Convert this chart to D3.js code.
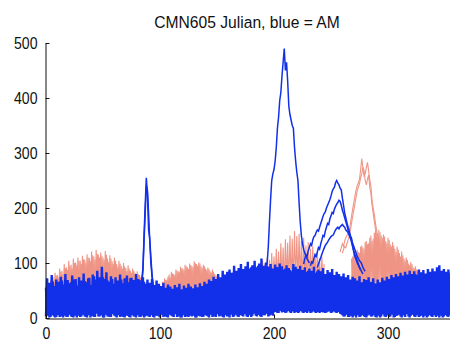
<!DOCTYPE html>
<html>
<head>
<meta charset="utf-8">
<script src="https://cdn.jsdelivr.net/npm/d3@7"></script>
<style>
  html, body { margin: 0; padding: 0; background: #fff; }
  svg { display: block; }
</style>
</head>
<body>
<svg id="chart" width="450" height="341"></svg>
<script>
// ---- Data: daily readings by Julian day ----
const titleText = "CMN605 Julian, blue = AM";
const xTicks = [0, 100, 200, 300];
const yTicks = [0, 100, 200, 300, 400, 500];

// AM (blue) full-year traces, day 0 .. 357
const amBase1 = [
  3,72, 8,64, 2,78, 5,58, 1,70,
  6,66, 2,75, 9,61, 4,80, 2,69,
  7,63, 3,77, 1,70, 12,59, 4,74,
  2,68, 6,81, 3,65, 1,72, 8,60,
  4,79, 2,70, 10,86, 3,74, 5,93,
  1,71, 7,83, 3,66, 2,76, 9,62,
  4,74, 1,68, 6,79, 3,63, 2,72,
  8,77, 4,65, 1,73, 5,69, 3,80,
  6,71, 2,66, 4,74, 1,62, 7,70,
  3,64, 5,71, 2,60, 8,68, 4,62,
  1,58, 6,64, 3,55, 2,61, 9,57,
  4,53, 2,60, 7,56, 3,62, 1,52,
  5,59, 2,55, 8,62, 4,57, 3,54,
  6,61, 1,56, 4,63, 10,58, 2,66,
  5,62, 3,70, 7,67, 2,75, 4,71,
  8,80, 3,74, 5,86, 1,79, 6,84,
  4,88, 9,82, 2,95, 6,86, 3,91,
  7,98, 4,89, 11,94, 3,102, 5,90,
  2,96, 8,104, 4,92, 6,99, 3,108,
  7,95, 5,101, 9,93, 4,98, 6,90,
  10,97, 12,92, 9,99, 14,94, 11,88,
  9,96, 13,91, 10,85, 15,98, 9,93,
  12,89, 10,95, 16,87, 9,92, 11,84,
  14,90, 9,86, 12,93, 10,82, 13,88,
  9,85, 11,91, 15,80, 10,87, 12,83,
  9,89, 13,78, 10,84, 11,80, 8,76,
  5,81, 3,74, 7,78, 2,70, 4,75,
  6,72, 1,68, 5,76, 3,65, 8,71,
  2,69, 4,74, 9,66, 3,72, 5,63,
  1,70, 6,65, 3,73, 7,68, 2,75,
  5,71, 3,78, 8,74, 2,80, 4,76,
  6,82, 1,77, 5,84, 9,79, 3,86,
  4,80, 7,85, 2,78, 5,88, 3,83,
  8,87, 4,81, 1,89, 6,84, 3,90,
  5,85, 2,92, 7,96, 4,86, 1,89,
  6,84, 3,88, 5,82, 2,79
];
const amBase2 = [
  55,4, 62,1, 48,7, 66,3, 52,2,
  60,5, 45,3, 68,1, 57,8, 63,2,
  50,6, 65,2, 58,4, 71,1, 54,9,
  62,3, 49,7, 67,2, 56,5, 73,1,
  58,4, 76,2, 61,8, 69,3, 64,5,
  74,1, 55,6, 68,3, 60,2, 71,7,
  57,3, 66,5, 52,2, 70,8, 61,1,
  64,4, 58,2, 72,6, 55,3, 67,1,
  60,5, 69,2, 54,7, 66,3, 58,4,
  52,2, 58,6, 47,1, 55,4, 50,3,
  45,7, 51,2, 42,5, 48,1, 44,6,
  40,3, 47,8, 43,2, 49,4, 41,1,
  46,6, 42,3, 50,2, 44,7, 48,4,
  43,1, 51,5, 47,3, 55,2, 50,8,
  57,4, 53,1, 62,6, 58,3, 66,2,
  63,7, 70,4, 67,2, 75,5, 71,3,
  78,1, 74,6, 82,3, 77,8, 85,2,
  80,5, 88,3, 83,7, 90,2, 86,6,
  92,4, 84,9, 89,3, 95,6, 87,2,
  91,5, 86,8, 94,3, 83,7, 89,4,
  85,11, 92,9, 80,13, 88,10, 84,12,
  90,10, 82,14, 87,9, 79,12, 86,11,
  81,9, 88,13, 78,10, 84,15, 80,9,
  86,12, 77,10, 83,14, 79,9, 85,11,
  76,13, 82,10, 74,9, 80,12, 72,14,
  78,10, 70,12, 75,9, 68,11, 73,7,
  66,3, 71,6, 63,2, 68,5, 60,1,
  65,4, 58,7, 62,2, 56,5, 64,3,
  59,1, 66,6, 57,3, 63,8, 55,2,
  61,4, 56,1, 64,7, 58,3, 66,5,
  62,2, 68,6, 65,1, 71,4, 67,8,
  73,3, 69,5, 76,2, 70,7, 74,1,
  78,6, 72,3, 80,8, 75,2, 77,4,
  71,1, 79,6, 74,3, 82,5, 76,2,
  80,7, 73,4, 84,1, 77,6, 81,3,
  75,5, 83,2, 78,7, 72,3
];

// AM (blue) event traces, each starting at the given Julian day
const amSpikeAStart = 82;
const amSpikeA = [45, 58, 70, 90, 150, 205, 255, 225, 160, 145, 110, 80, 60, 48];
const amSpikeBStart = 82;
const amSpikeB = [38, 50, 60, 85, 140, 190, 240, 232, 190, 140, 100, 75, 55, 42];
const amSummerPeakStart = 192;
const amSummerPeak = [
  85, 90, 100, 130, 175, 215, 250, 262, 270, 285,
  310, 345, 365, 395, 410, 440, 465, 490, 450, 465,
  430, 385, 370, 360, 350, 345, 310, 285, 265, 250,
  210, 175, 150, 135, 125, 118, 112, 108, 104, 100
];
const amFallAStart = 226;
const amFallA = [
  98, 108, 115, 112, 122, 128, 135, 132, 142, 148,
  150, 156, 160, 158, 165, 172, 178, 185, 190, 193,
  200, 205, 210, 215, 222, 230, 235, 238, 246, 250,
  245, 242, 236, 233, 218, 205, 191, 182, 173, 165,
  158, 150, 145, 130, 120, 111, 106, 100, 96, 92,
  88, 84, 80
];
const amFallBStart = 232;
const amFallB = [
  95, 102, 100, 108, 115, 112, 120, 128, 125, 135,
  142, 150, 148, 158, 165, 172, 170, 180, 186, 192,
  190, 198, 203, 207, 210, 214, 212, 205, 196, 190,
  182, 175, 168, 160, 154, 145, 138, 130, 122, 115,
  110, 104, 98, 92, 87
];
const amFallCStart = 238;
const amFallC = [
  92, 98, 104, 110, 116, 122, 127, 132, 135, 138,
  142, 145, 148, 150, 151, 156, 160, 163, 165, 162,
  166, 168, 170, 167, 165, 160, 158, 155, 150, 146,
  142, 136, 130, 124, 118, 112, 108, 104, 102, 98,
  92, 88, 85
];

// PM (salmon) traces, each starting at the given Julian day
const pmSpringAStart = 4;
const pmSpringA = [
  68,40, 75,45, 82,38, 78,50, 90,42,
  86,47, 98,41, 92,52, 104,44, 97,48,
  108,43, 101,55, 110,46, 104,51, 113,40,
  106,49, 116,44, 109,53, 121,47, 112,42,
  124,50, 115,45, 119,54, 110,41, 122,48,
  108,52, 114,43, 103,50, 110,46, 98,44,
  104,51, 95,42, 100,48, 91,45, 96,40,
  86,47, 90,43, 82,49, 85,41, 78,46,
  74,44
];
const pmSpringBStart = 4;
const pmSpringB = [
  42,62, 48,70, 40,77, 52,72, 44,84,
  50,80, 43,91, 55,87, 46,95, 49,90,
  45,100, 53,96, 48,104, 41,98, 56,107,
  44,100, 51,110, 47,103, 54,114, 43,106,
  49,117, 46,110, 52,113, 42,106, 50,115,
  45,102, 53,108, 41,98, 48,104, 44,93,
  52,99, 46,90, 40,94, 49,86, 43,90,
  47,82, 42,86, 50,78, 44,80, 41,74,
  45,70
];
const pmEarlySummerAStart = 102;
const pmEarlySummerA = [
  66,40, 72,45, 70,38, 79,47, 84,42,
  80,48, 88,41, 85,50, 93,44, 90,46,
  97,43, 92,51, 99,45, 95,40, 103,49,
  98,44, 101,52, 94,41, 97,47, 90,45,
  92,43, 85,50, 88,42, 80,46, 76,41,
  70
];
const pmEarlySummerBStart = 102;
const pmEarlySummerB = [
  42,64, 47,69, 40,75, 49,73, 44,81,
  50,77, 43,86, 48,83, 45,90, 52,87,
  41,94, 49,89, 46,96, 44,92, 51,100,
  43,95, 48,99, 40,91, 47,94, 45,87,
  50,89, 42,82, 47,84, 41,77, 46,73,
  40
];
const pmMidSummerStart = 188;
const pmMidSummer = [
  96,62, 104,58, 99,64, 110,60, 106,57,
  118,63, 112,59, 126,66, 121,60, 136,65,
  128,58, 143,67, 137,61, 150,64, 144,60,
  158,68, 149,62, 153,66, 140,59, 146,63,
  132,57, 138,65, 126,60, 130,62, 118,58,
  121,61, 108,56, 112,60, 98
];
const pmFallAStart = 268;
const pmFallA = [
  108,62, 116,58, 122,66, 120,60, 130,63,
  128,59, 138,65, 134,61, 146,67, 140,60,
  155,64, 148,59, 160,66, 150,62, 152,58,
  140,63, 146,60, 134,65, 138,58, 126,62,
  130,57, 118,61, 121,56, 108,60, 110,55,
  99,59, 102,54, 92,58, 94,53, 86,57,
  88,54, 80,56, 76,52
];
const pmFallBStart = 268;
const pmFallB = [
  60,112, 65,110, 58,124, 63,118, 57,132,
  62,126, 59,140, 64,136, 60,150, 66,144,
  58,158, 63,152, 61,156, 57,146, 62,148,
  59,136, 64,142, 56,130, 61,132, 58,120,
  60,124, 55,112, 59,114, 54,104, 58,106,
  53,96, 57,98, 54,90, 52,88, 56,84,
  51,82, 55,78, 50,74
];
const pmFallPeakAStart = 258;
const pmFallPeakA = [
  120, 128, 135, 130, 140, 146, 150, 153, 158, 172,
  185, 198, 210, 222, 233, 240, 246, 252, 270, 290,
  272, 258, 262, 274, 283, 268, 251, 240, 215, 200,
  188, 172, 160, 150, 142, 130, 126, 118
];
const pmFallPeakBStart = 260;
const pmFallPeakB = [
  118, 125, 130, 128, 136, 142, 148, 160, 172, 185,
  196, 208, 220, 231, 238, 244, 255, 262, 274, 268,
  250, 242, 252, 260, 238, 226, 205, 190, 176, 162,
  150, 142, 133, 124, 116, 110
];

// ---- Layout ----
const svg = d3.select("#chart");
const x = d3.scaleLinear().domain([0, 400]).range([46, 502]);
const y = d3.scaleLinear().domain([0, 500]).range([318, 43]);

const amColor = "#1230ea";
const pmColor = "#ef9585";
const font = "'Liberation Sans', Arial, Helvetica, sans-serif";

const toPoints = (start, values) => values.map((v, i) => ({ day: start + i, v }));
const line = d3.line().x(d => x(d.day)).y(d => y(d.v));

const pmTraces = [
  [pmSpringAStart, pmSpringA], [pmSpringBStart, pmSpringB],
  [pmEarlySummerAStart, pmEarlySummerA], [pmEarlySummerBStart, pmEarlySummerB],
  [pmMidSummerStart, pmMidSummer],
  [pmFallAStart, pmFallA], [pmFallBStart, pmFallB],
  [pmFallPeakAStart, pmFallPeakA], [pmFallPeakBStart, pmFallPeakB]
];
const amBaseTraces = [[0, amBase1], [0, amBase2]];
const amEventTraces = [
  [amSpikeAStart, amSpikeA], [amSpikeBStart, amSpikeB],
  [amSummerPeakStart, amSummerPeak],
  [amFallAStart, amFallA], [amFallBStart, amFallB], [amFallCStart, amFallC]
];

const plot = svg.append("g");
plot.selectAll("path.pm")
  .data(pmTraces)
  .join("path")
  .attr("class", "pm")
  .attr("d", ([s, vals]) => line(toPoints(s, vals)))
  .attr("fill", "none")
  .attr("stroke", pmColor)
  .attr("stroke-width", 1.1);

plot.selectAll("path.am-base")
  .data(amBaseTraces)
  .join("path")
  .attr("class", "am-base")
  .attr("d", ([s, vals]) => line(toPoints(s, vals)))
  .attr("fill", "none")
  .attr("stroke", amColor)
  .attr("stroke-width", 2.4);

plot.selectAll("path.am-event")
  .data(amEventTraces)
  .join("path")
  .attr("class", "am-event")
  .attr("d", ([s, vals]) => line(toPoints(s, vals)))
  .attr("fill", "none")
  .attr("stroke", amColor)
  .attr("stroke-width", 1.5);

// ---- Axes (MATLAB style: inward ticks, no box) ----
const xAxis = d3.axisBottom(x).tickValues(xTicks).tickSize(-4).tickSizeOuter(0).tickFormat(d3.format("d"));
const yAxis = d3.axisLeft(y).tickValues(yTicks).tickSize(-4).tickSizeOuter(0).tickFormat(d3.format("d"));

const gx = svg.append("g").attr("transform", "translate(0,318.5)").call(xAxis);
const gy = svg.append("g").attr("transform", "translate(45.5,0)").call(yAxis);

[gx, gy].forEach(g => {
  g.select(".domain").attr("stroke", "#111").attr("stroke-width", 1);
  g.selectAll(".tick line").attr("stroke", "#111").attr("stroke-width", 1);
  g.selectAll(".tick text")
    .attr("fill", "#111")
    .style("font-family", font)
    .style("font-size", "16px");
});

gx.selectAll(".tick text")
  .attr("y", null).attr("dy", null)
  .attr("text-anchor", "middle")
  .attr("transform", "translate(0,20) scale(0.88,1)");

gy.selectAll(".tick text")
  .attr("x", null).attr("dy", null)
  .attr("text-anchor", "end")
  .attr("transform", "translate(-8,5.5) scale(0.88,1)");

// ---- Title ----
svg.append("text")
  .attr("transform", "translate(247,28) scale(0.92,1)")
  .attr("text-anchor", "middle")
  .attr("fill", "#111")
  .style("font-family", font)
  .style("font-size", "17px")
  .text(titleText);
</script>
</body>
</html>
